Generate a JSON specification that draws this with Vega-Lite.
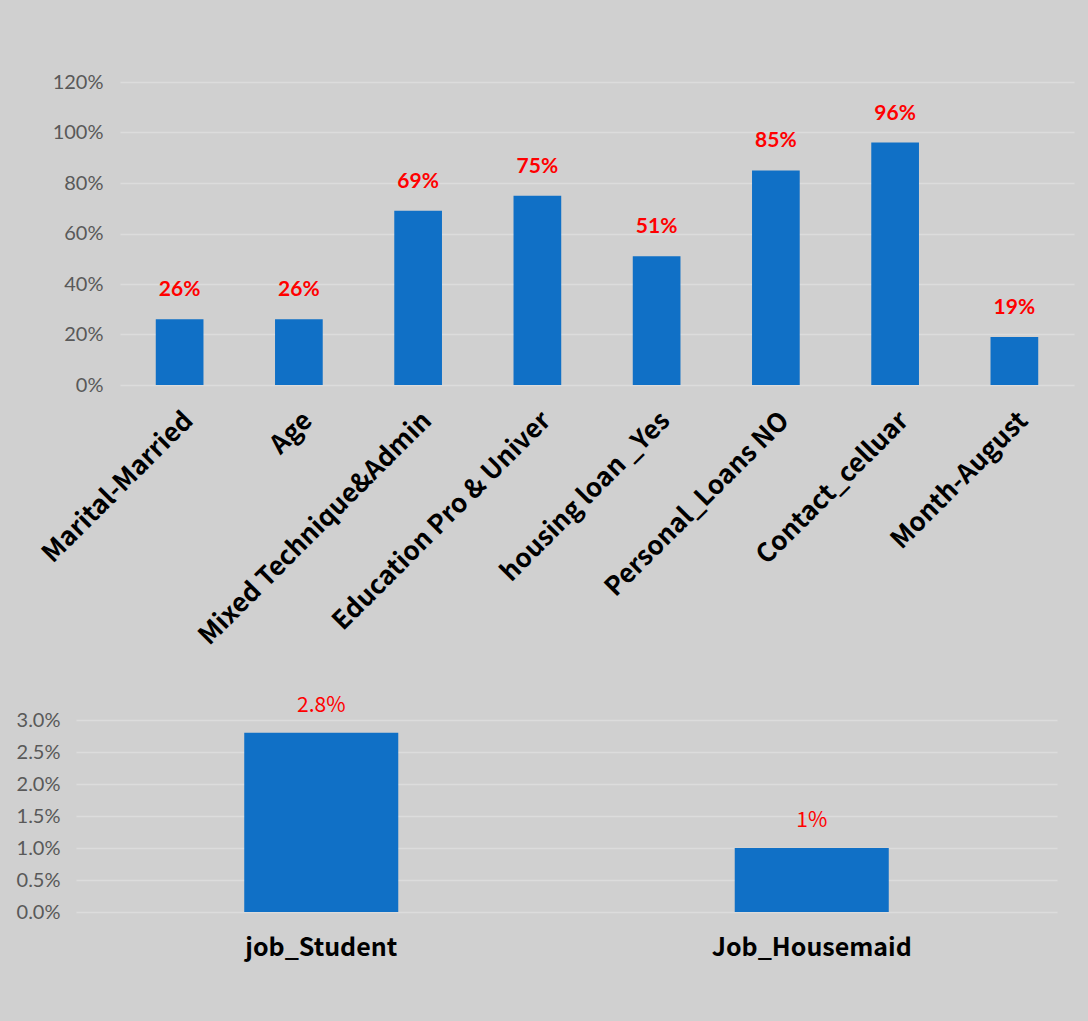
{
  "$schema": "https://vega.github.io/schema/vega-lite/v6.json",
  "background": "#d0d0d0",
  "padding": {"left": 16, "top": 72, "right": 16, "bottom": 74},
  "config": {
    "view": {"stroke": null},
    "axis": {"gridColor": "#dcdcdc", "gridWidth": 1.5, "domain": false, "ticks": false, "labelLimit": 500}
  },
  "spacing": 44,
  "vconcat": [
    {
      "bounds": "flush",
      "spacing": 43,
      "hconcat": [
        {
          "width": 1,
          "height": 303,
          "data": {"values": [{"s": 0}]},
          "mark": {"type": "point", "opacity": 0}
        },
        {
          "width": 954,
          "height": 303,
          "data": {"values": [
            {"cat": "Marital-Married", "v": 0.26},
            {"cat": "Age", "v": 0.26},
            {"cat": "Mixed Technique&Admin", "v": 0.69},
            {"cat": "Education Pro & Univer", "v": 0.75},
            {"cat": "housing loan _Yes", "v": 0.51},
            {"cat": "Personal_Loans NO", "v": 0.85},
            {"cat": "Contact_celluar", "v": 0.96},
            {"cat": "Month-August", "v": 0.19}
          ]},
          "encoding": {
            "x": {"field": "cat", "type": "nominal", "sort": null, "title": null,
              "scale": {"paddingInner": 0.6, "paddingOuter": 0.3},
              "axis": {"labelAngle": -45, "labelFont": "Noto Sans CJK JP", "labelFontWeight": "bold", "labelFontSize": 26, "labelColor": "#000000", "labelPadding": 22, "grid": false}},
            "y": {"field": "v", "type": "quantitative", "title": null,
              "scale": {"domain": [0, 1.2]},
              "axis": {"values": [0, 0.2, 0.4, 0.6, 0.8, 1.0, 1.2], "format": ".0%", "labelFont": "Lato", "labelFontSize": 20, "labelColor": "#595959", "labelPadding": 17}}
          },
          "layer": [
            {"mark": {"type": "bar", "color": "#1070c6"}},
            {"mark": {"type": "text", "color": "#ff0000", "font": "Lato", "fontWeight": "bold", "fontSize": 21, "baseline": "bottom", "dy": -19},
              "encoding": {"text": {"field": "v", "type": "quantitative", "format": ".0%"}}}
          ]
        }
      ]
    },
    {
      "width": 981,
      "height": 192,
      "data": {"values": [
        {"cat": "job_Student", "v": 0.028, "label": "2.8%"},
        {"cat": "Job_Housemaid", "v": 0.01, "label": "1%"}
      ]},
      "encoding": {
        "x": {"field": "cat", "type": "nominal", "sort": null, "title": null,
          "scale": {"paddingInner": 0.686, "paddingOuter": 0.343},
          "axis": {"labelAngle": 0, "labelFont": "Noto Sans CJK JP", "labelFontWeight": "bold", "labelFontSize": 25, "labelColor": "#000000", "labelPadding": 23, "grid": false}},
        "y": {"field": "v", "type": "quantitative", "title": null,
          "scale": {"domain": [0, 0.03]},
          "axis": {"values": [0, 0.005, 0.01, 0.015, 0.02, 0.025, 0.03], "format": ".1%", "labelFont": "Lato", "labelFontSize": 20, "labelColor": "#595959", "labelPadding": 16}}
      },
      "layer": [
        {"mark": {"type": "bar", "color": "#1070c6"}},
        {"mark": {"type": "text", "color": "#ff0000", "font": "Noto Sans CJK JP", "fontSize": 21, "baseline": "bottom", "dy": -17},
          "encoding": {"text": {"field": "label", "type": "nominal"}}}
      ]
    }
  ]
}
